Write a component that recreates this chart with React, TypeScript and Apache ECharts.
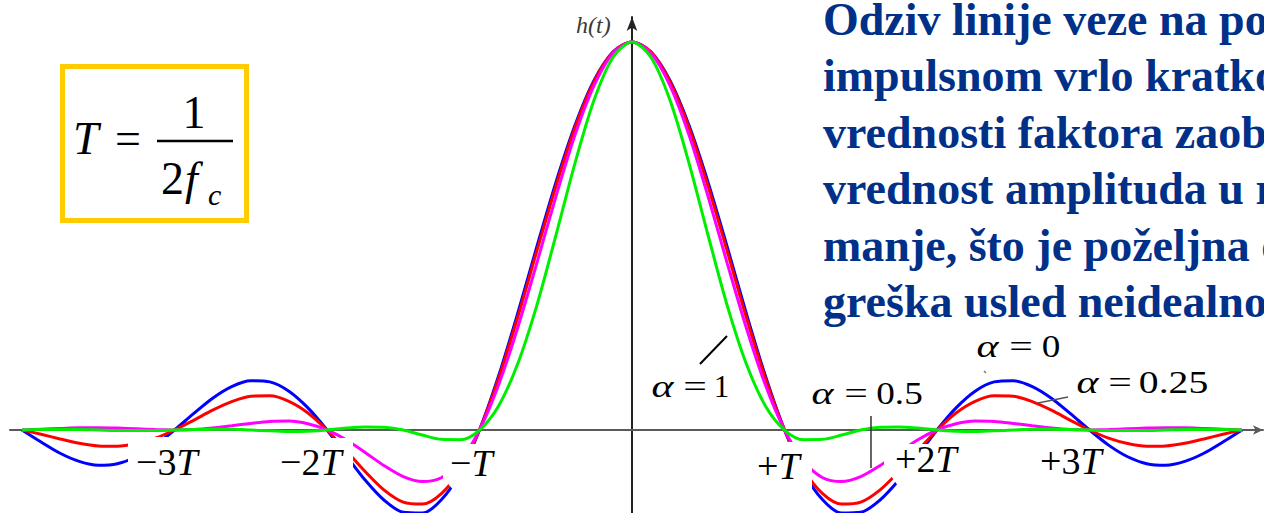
import { useEffect, useRef } from "react";
import * as echarts from "echarts";

// t in units of T
const tValues = [-4, -3.875, -3.75, -3.625, -3.5, -3.375, -3.25, -3.125, -3, -2.875, -2.75, -2.625, -2.5, -2.375, -2.25, -2.125, -2, -1.875, -1.75, -1.625, -1.5, -1.375, -1.25, -1.125, -1, -0.875, -0.75, -0.625, -0.5, -0.375, -0.25, -0.125, 0, 0.125, 0.25, 0.375, 0.5, 0.625, 0.75, 0.875, 1, 1.125, 1.25, 1.375, 1.5, 1.625, 1.75, 1.875, 2, 2.125, 2.25, 2.375, 2.5, 2.625, 2.75, 2.875, 3, 3.125, 3.25, 3.375, 3.5, 3.625, 3.75, 3.875, 4];
const alpha0 = [0, -0.031, -0.06, -0.081, -0.091, -0.087, -0.069, -0.039, 0, 0.042, 0.082, 0.112, 0.127, 0.124, 0.1, 0.057, 0, -0.065, -0.129, -0.181, -0.212, -0.214, -0.18, -0.108, 0, 0.139, 0.3, 0.471, 0.637, 0.784, 0.9, 0.974, 1, 0.974, 0.9, 0.784, 0.637, 0.471, 0.3, 0.139, 0, -0.108, -0.18, -0.214, -0.212, -0.181, -0.129, -0.065, 0, 0.057, 0.1, 0.124, 0.127, 0.112, 0.082, 0.042, 0, -0.039, -0.069, -0.087, -0.091, -0.081, -0.06, -0.031, 0];
const alpha025 = [0, -0.011, -0.023, -0.034, -0.041, -0.042, -0.035, -0.021, 0, 0.025, 0.051, 0.073, 0.087, 0.088, 0.074, 0.044, 0, -0.053, -0.107, -0.155, -0.186, -0.191, -0.164, -0.101, 0, 0.133, 0.29, 0.46, 0.627, 0.778, 0.897, 0.974, 1, 0.974, 0.897, 0.778, 0.627, 0.46, 0.29, 0.133, 0, -0.101, -0.164, -0.191, -0.186, -0.155, -0.107, -0.053, 0, 0.044, 0.074, 0.088, 0.087, 0.073, 0.051, 0.025, 0, -0.021, -0.035, -0.042, -0.041, -0.034, -0.023, -0.011, 0];
const alpha05 = [0, 0.002, 0.004, 0.006, 0.006, 0.005, 0.003, 0.001, 0, 0.001, 0.005, 0.011, 0.017, 0.022, 0.023, 0.016, 0, -0.025, -0.058, -0.092, -0.12, -0.133, -0.123, -0.08, 0, 0.116, 0.263, 0.429, 0.6, 0.759, 0.887, 0.971, 1, 0.971, 0.887, 0.759, 0.6, 0.429, 0.263, 0.116, 0, -0.08, -0.123, -0.133, -0.12, -0.092, -0.058, -0.025, 0, 0.016, 0.023, 0.022, 0.017, 0.011, 0.005, 0.001, 0, 0.001, 0.003, 0.005, 0.006, 0.006, 0.004, 0.002, 0];
const alpha1 = [0, 0.001, 0.001, 0.001, 0, -0.001, -0.001, -0.001, 0, 0.001, 0.002, 0.002, 0, -0.002, -0.004, -0.003, 0, 0.005, 0.008, 0.007, 0, -0.013, -0.024, -0.025, 0, 0.062, 0.17, 0.32, 0.5, 0.686, 0.849, 0.96, 1, 0.96, 0.849, 0.686, 0.5, 0.32, 0.17, 0.062, 0, -0.025, -0.024, -0.013, 0, 0.007, 0.008, 0.005, 0, -0.003, -0.004, -0.002, 0, 0.002, 0.002, 0.001, 0, -0.001, -0.001, -0.001, 0, 0.001, 0.001, 0.001, 0];

const seriesNames = ["α = 0", "α = 0.25", "α = 0.5", "α = 1"];
const seriesColors = ["#0000ff", "#ff0000", "#ff00ff", "#00ee00"];
const tickPrefixes = ["−3", "−2", "−", "+", "+2", "+3"];
const rightLines = [
  "Odziv linije veze na pobudu",
  "impulsnom vrlo kratkog trajanja.",
  "vrednosti faktora zaobljenja",
  "vrednost amplituda u repovima",
  "manje, što je poželjna osobina",
  "greška usled neidealnog odabiranja",
];

const X_MIN = -4.0787;
const X_MAX = 4.1377;
const Y_MIN = -0.2139;
const Y_MAX = 1.0644;

const SERIF = "Liberation Serif";

function txt(text: string, x: number, baseline: number, size: number, extra: any = {}) {
  return {
    type: "text",
    x,
    y: baseline - 0.34 * size,
    scaleX: extra.scaleX ?? 1,
    z: extra.z ?? 100,
    silent: true,
    style: {
      text,
      x: 0,
      y: 0,
      fill: extra.fill ?? "#000",
      fontFamily: SERIF,
      fontSize: size,
      fontStyle: extra.fontStyle ?? "normal",
      fontWeight: extra.weight ?? "normal",
      align: extra.align ?? "left",
      textAlign: extra.align ?? "left",
      verticalAlign: "middle",
      textVerticalAlign: "middle",
      rich: extra.rich,
    },
  };
}

function tickLabel(prefix: string, x: number, baseline: number) {
  const size = 38;
  return txt(`{n|${prefix}}{t|T}`, x, baseline, size, {
    rich: {
      n: { fontFamily: SERIF, fontSize: size, fill: "#000" },
      t: { fontFamily: SERIF, fontSize: size, fontStyle: "italic", fill: "#000" },
    },
  });
}

function whiteRect(x: number, y: number, w: number, h: number) {
  return { type: "rect", z: 90, silent: true, shape: { x, y, width: w, height: h }, style: { fill: "#fff" } };
}

function whitePoly(points: number[][]) {
  return { type: "polygon", z: 90, silent: true, shape: { points }, style: { fill: "#fff" } };
}

function seg(x1: number, y1: number, x2: number, y2: number, color: string, w: number, z = 95) {
  return { type: "line", z, silent: true, shape: { x1, y1, x2, y2 }, style: { stroke: color, lineWidth: w } };
}

function alphaLabel(aX: number, eqX: number, numX: number, num: string, baseline: number, numScale: number) {
  const size = 31;
  return [
    txt("α", aX, baseline, size, { fontStyle: "italic", scaleX: 1.35, align: "center" }),
    txt("=", eqX, baseline, size, { scaleX: 1.35, align: "center" }),
    txt(num, numX, baseline, size, { scaleX: numScale, align: "center" }),
  ];
}

export default function App() {
  const ref = useRef<HTMLDivElement>(null);
  useEffect(() => {
    if (!ref.current) return;
    const chart = echarts.init(ref.current, undefined, { renderer: "svg" });
    const allSeries = [alpha0, alpha025, alpha05, alpha1];
    const graphic: any[] = [
      // formula box
      { type: "rect", z: 98, shape: { x: 62.5, y: 66.5, width: 184, height: 154 }, style: { fill: "#fff", stroke: "#ffcc00", lineWidth: 5 } },
      txt("T", 73, 154, 46, { fontStyle: "italic" }),
      txt("=", 115, 154, 46),
      seg(157, 141, 233, 141, "#000", 2.5, 100),
      txt("1", 194, 128, 46, { align: "center" }),
      txt("2", 161, 194, 46),
      txt("f", 185, 194, 46, { fontStyle: "italic" }),
      txt("c", 208, 205, 30, { fontStyle: "italic" }),
      // y axis label
      txt("h(t)", 576, 33, 24, { fontStyle: "italic", fill: "#3a3a3a" }),
      // white label backgrounds
      whiteRect(128, 437, 72, 52),
      whiteRect(274, 438, 79, 52),
      whitePoly([[443, 444], [500, 444], [500, 500], [462, 500], [443, 478]]),
      whiteRect(752, 442, 60, 71),
      whitePoly([[884, 444], [962, 444], [962, 500], [908, 500], [884, 466]]),
      // tick labels
      tickLabel(tickPrefixes[0], 136, 475),
      tickLabel(tickPrefixes[1], 280, 475),
      tickLabel(tickPrefixes[2], 450, 476),
      tickLabel(tickPrefixes[3], 757, 479),
      tickLabel(tickPrefixes[4], 895, 472),
      tickLabel(tickPrefixes[5], 1040, 474),
      // alpha labels and pointers
      ...alphaLabel(987.5, 1021, 1051, "0", 357, 1.2),
      ...alphaLabel(1087.5, 1120, 1173.5, "0.25", 393, 1.28),
      ...alphaLabel(662.5, 695, 721.5, "1", 397, 1.0),
      ...alphaLabel(822.5, 856, 899.5, "0.5", 404, 1.2),
      seg(700, 364, 727, 336, "#000", 2),
      seg(871, 416, 871, 468, "#333", 1.5),
      seg(1038, 403, 1068, 397, "#555", 1.5),
      seg(984, 371, 986, 373, "#777", 1.5),
      // right text
      ...rightLines.map((line, i) => txt(line, 823, 35 + i * 56.5, 46, { weight: "bold", fill: "#003087" })),
    ];
    chart.setOption({
      animation: false,
      backgroundColor: "#fff",
      grid: { left: 10, right: 1, top: 17, bottom: 0, containLabel: false },
      xAxis: {
        type: "value",
        min: X_MIN,
        max: X_MAX,
        axisLine: { show: true, onZero: true, symbol: ["none", "arrow"], symbolSize: [7, 10], lineStyle: { color: "#5a5a5a", width: 2 } },
        axisTick: { show: false },
        axisLabel: { show: false },
        splitLine: { show: false },
      },
      yAxis: {
        type: "value",
        min: Y_MIN,
        max: Y_MAX,
        axisLine: { show: true, onZero: true, symbol: ["none", "arrow"], symbolSize: [8, 14], lineStyle: { color: "#222", width: 2 } },
        axisTick: { show: false },
        axisLabel: { show: false },
        splitLine: { show: false },
      },
      series: allSeries.map((vals, i) => ({
        name: seriesNames[i],
        type: "line",
        data: tValues.map((t, j) => [t, vals[j]]),
        smooth: 0.3,
        symbol: "none",
        showSymbol: false,
        z: 2 + i,
        lineStyle: { color: seriesColors[i], width: 3 },
      })),
      graphic,
    });
    return () => chart.dispose();
  }, []);
  return <div ref={ref} style={{ position: "fixed", left: 0, top: 0, width: 1264, height: 513, background: "#fff" }} />;
}
